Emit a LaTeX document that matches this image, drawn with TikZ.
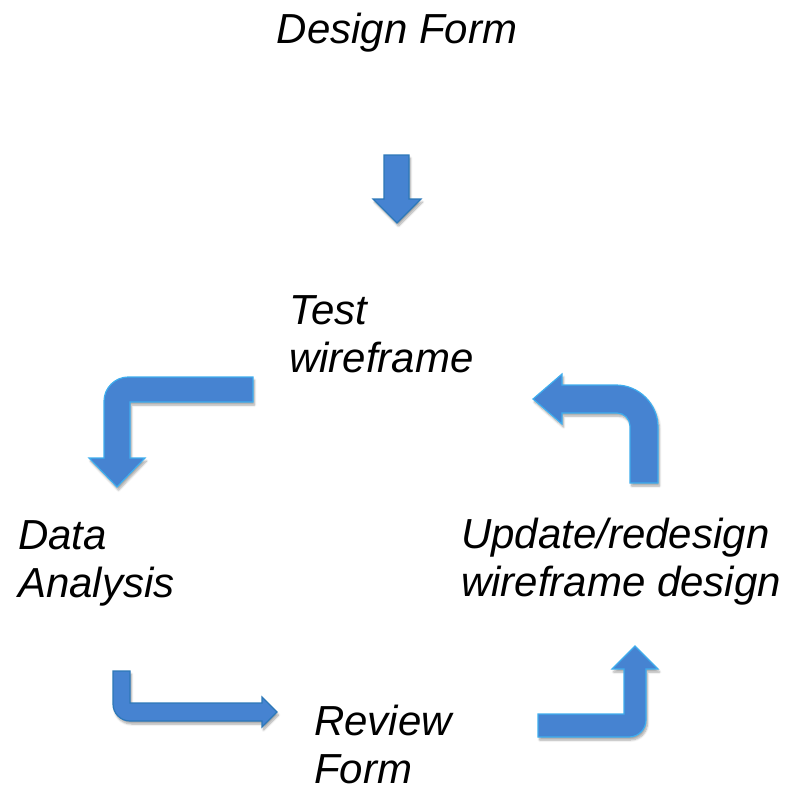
\documentclass[tikz,border=0pt]{standalone}
\usepackage{fontspec}
\setmainfont{Liberation Sans}
\usetikzlibrary{shadows.blur}
\definecolor{arrfill}{HTML}{4683D1}
\definecolor{arrlight}{HTML}{3FAEEE}
\definecolor{arrdark}{HTML}{2C78B8}
\tikzset{
  lbl/.style={inner sep=0pt, align=left, anchor=base west, font=\fontsize{42}{48}\selectfont\itshape},
  arrbody/.style={fill=arrfill, line width=1.2pt, line join=miter,
    blur shadow={shadow xshift=1.5pt, shadow yshift=-3pt, shadow blur steps=6, shadow opacity=35}},
  lightedge/.style={arrbody, draw=arrlight},
  darkedge/.style={arrbody, draw=arrdark}
}
\begin{document}
\begin{tikzpicture}[x=1pt, y=-1pt]
\useasboundingbox (0,0) rectangle (802,793);
% labels (anchor at baseline of last line)
\node[lbl, anchor=base] (design) at (397,43) {Design Form};
\node[lbl] (test) at (289,372) {Test\\wireframe};
\node[lbl] (data) at (18,597) {Data\\Analysis};
\node[lbl] (update) at (461,596) {Update/redesign\\wireframe design};
\node[lbl] (review) at (314,783) {Review\\Form};
% arrow 1: straight down
\path[darkedge] (384,155) -- (409,155) -- (409,199) -- (421,199) -- (397,223) -- (373,199) -- (384,199) -- cycle;
% arrow 2: left then down
\path[lightedge] (253,377) -- (253,402) -- (130,402) -- (130,458) -- (145,458) -- (117,487) -- (89,458) -- (104,458)
  -- (104,401) .. controls (104,388) and (115,377) .. (128,377) -- cycle;
% arrow 3: up then left
\path[lightedge] (630,483) -- (658,483) -- (658,427) .. controls (658,404) and (639,385) .. (616,385)
  -- (562,385) -- (562,374) -- (533,399) -- (562,424) -- (562,413) -- (617,413)
  .. controls (624,413) and (630,419) .. (630,426) -- cycle;
% arrow 4: down then right
\path[darkedge] (113,671) -- (130,671) -- (130,703) -- (262,703) -- (262,697) -- (277,712) -- (262,727) -- (262,721)
  -- (130,721) .. controls (120.6,721) and (113,713.4) .. (113,704) -- cycle;
% arrow 5: right then up
\path[lightedge] (538,714) -- (624,714) -- (624,669) -- (612,669) -- (635,646) -- (658,669) -- (646,669)
  -- (646,720) .. controls (646,729.4) and (638.4,737) .. (629,737) -- (538,737) -- cycle;
\end{tikzpicture}
\end{document}
